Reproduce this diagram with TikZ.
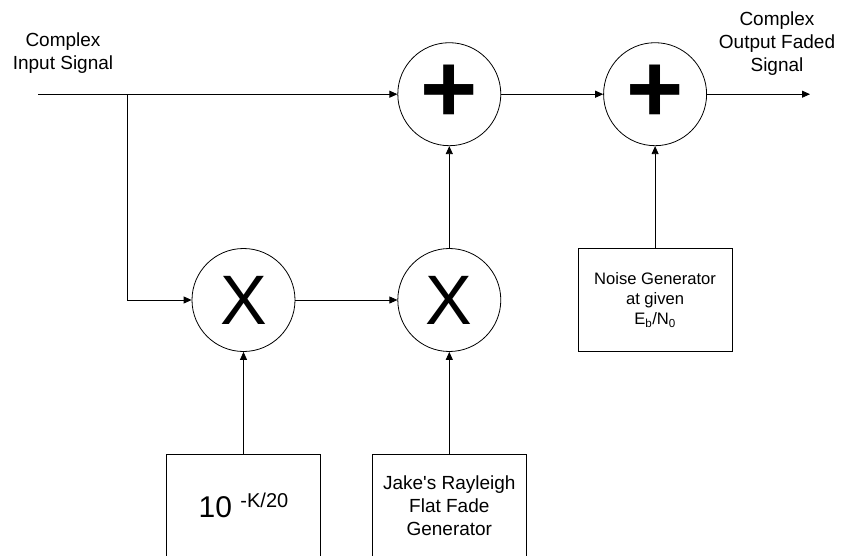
\documentclass[tikz,border=0pt]{standalone}
\usepackage{fontspec}
\setmainfont{Liberation Sans}
\usetikzlibrary{arrows.meta, positioning}

\begin{document}
\begin{tikzpicture}[
  x=1pt, y=-1pt,
  node distance=102pt, every node/.style={align=center},
  op/.style={circle, draw, line width=0.8pt, minimum size=103pt, inner sep=0pt},
  blk/.style={draw, line width=0.8pt, minimum width=154pt, minimum height=103pt, inner sep=2pt},
  lbl/.style={font=\fontsize{19}{23}\selectfont},
  >={Triangle[length=8pt, width=7pt]}
]
\useasboundingbox (0,0) rectangle (843,556);
\node[op] (mulk) at (243.5,300) {\fontsize{70}{70}\selectfont X};
\node[op, right=of mulk] (mulf) {\fontsize{70}{70}\selectfont X};
\node[op, above=of mulf] (sumf) {\fontsize{98}{98}\selectfont\bfseries +};
\node[op, right=of sumf] (sumn) {\fontsize{98}{98}\selectfont\bfseries +};
\node[blk, below=of mulk] (gain) {\fontsize{30}{30}\selectfont 10 \raisebox{10pt}{\fontsize{20}{20}\selectfont -K/20}};
\node[blk, below=of mulf, lbl] (jakes) {Jake\textquotesingle s Rayleigh\\Flat Fade\\Generator};
\node[blk, below=of sumn, font=\fontsize{16.6}{20}\selectfont] (noise) {Noise Generator\\at given\\E\textsubscript{b}/N\textsubscript{0}};
\coordinate[left=359pt of sumf.west] (in);
\coordinate[left=64pt of mulk.west] (tap);
\coordinate[right=103pt of sumn.east] (out);
\node[lbl] (inlbl) at (63,53) {Complex\\Input Signal};
\node[lbl] (outlbl) at (777,44) {Complex\\Output Faded\\Signal};
\draw[->,line width=0.8pt] (in) -- (sumf);
\draw[->,line width=0.8pt] (in -| tap) |- (mulk);
\draw[->,line width=0.8pt] (mulk) -- (mulf);
\draw[->,line width=0.8pt] (gain) -- (mulk);
\draw[->,line width=0.8pt] (jakes) -- (mulf);
\draw[->,line width=0.8pt] (mulf) -- (sumf);
\draw[->,line width=0.8pt] (sumf) -- (sumn);
\draw[->,line width=0.8pt] (noise) -- (sumn);
\draw[->,line width=0.8pt] (sumn) -- (out);
\end{tikzpicture}
\end{document}
